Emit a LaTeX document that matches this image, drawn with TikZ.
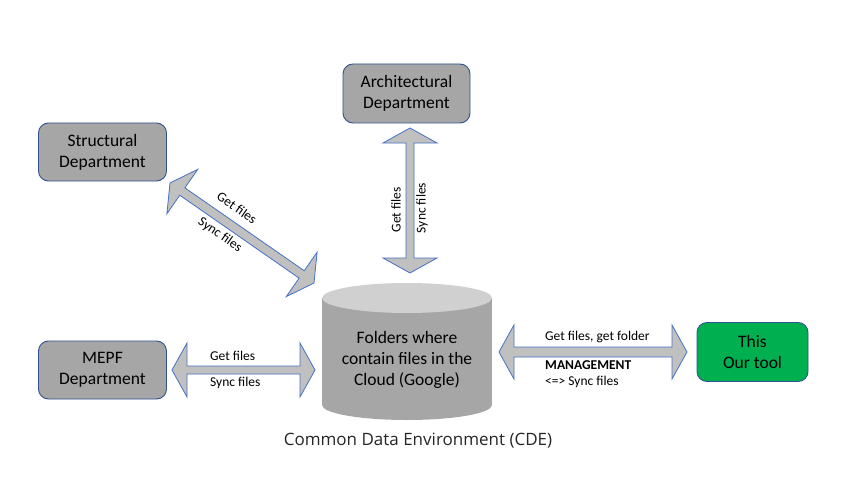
\documentclass[tikz,border=0pt]{standalone}
\usepackage{fontspec}
\setmainfont{Carlito}
\newfontfamily\capfont{Open Sans}
\usetikzlibrary{calc}
\definecolor{boxgray}{HTML}{A6A6A6}
\definecolor{boxline}{HTML}{2F528F}
\definecolor{arrfill}{HTML}{C0C0C0}
\definecolor{arrline}{HTML}{4472C4}
\definecolor{toolgreen}{HTML}{00B050}
\definecolor{cyltop}{HTML}{D0D0D0}
\definecolor{cylbody}{HTML}{A6A6A6}
\definecolor{captxt}{HTML}{262626}
\newcommand\dblarrow[3][5]{%
  \path let \p1=($(#3)-(#2)$) in \pgfextra{\pgfmathsetmacro\myang{atan2(\y1,\x1)}\pgfmathsetmacro\mylen{veclen(\x1,\y1)}\global\let\arrang\myang\global\let\arrlen\mylen};
  \draw[arr,shift={(#2)},rotate=\arrang] (0,0) -- (15,-27) -- (15,-#1) -- (\arrlen-15,-#1) -- (\arrlen-15,-27) -- (\arrlen,0) -- (\arrlen-15,27) -- (\arrlen-15,#1) -- (15,#1) -- (15,27) -- cycle;
}
\tikzset{
  dept/.style={draw=boxline, fill=boxgray, rounded corners=10pt, line width=0.9pt, align=center, inner sep=0pt, font=\fontsize{17.5}{21}\selectfont},
  arr/.style={draw=arrline, fill=arrfill, line width=0.8pt, line join=miter},
  lbl/.style={inner sep=0pt, font=\fontsize{13.5}{16}\selectfont},
}
\begin{document}
\begin{tikzpicture}[x=1pt,y=-1pt]
\useasboundingbox[fill=white] (0,0) rectangle (855,495);
% departments
\node[dept, minimum width=128pt, minimum height=58pt] (struct) at (102.5,152) {Structural\\Department};
\node[dept, minimum width=127pt, minimum height=59pt] (arch) at (406.5,93.5) {Architectural\\Department};
\node[dept, minimum width=128pt, minimum height=58pt] (mepf) at (102.5,370) {MEPF\\Department};
\node[dept, fill=toolgreen, minimum width=111pt, minimum height=59pt] (tool) at (752.5,352) {This\\Our tool};
% cylinder
\fill[cylbody] (322,298) rectangle (492,405);
\fill[cylbody] (407,405) ellipse [x radius=85, y radius=15];
\fill[cyltop] (407,298) ellipse [x radius=85, y radius=15];
\node[align=center, inner sep=0pt, font=\fontsize{17.5}{21}\selectfont] (cyl) at (407,360) {Folders where\\contain files in the\\Cloud (Google)};
\node[inner sep=0pt, text=captxt, font=\capfont\fontsize{17}{20}\selectfont] (cde) at (418,441) {Common Data Environment (CDE)};
% arrow ends
\coordinate (v1) at (410,128); \coordinate (v2) at (410,273);
\coordinate (d1) at (170,183); \coordinate (d2) at (314,283);
\coordinate (m1) at (172,370); \coordinate (m2) at (315,370);
\coordinate (r1) at (499,352); \coordinate (r2) at (687,352);
\dblarrow[4]{v1}{v2}
\dblarrow[4.5]{d1}{d2}
\dblarrow[4]{m1}{m2}
\dblarrow[5]{r1}{r2}
% labels
\node[lbl, rotate=90] (vg) at (396,210) {Get files};
\node[lbl, rotate=90] (vs) at (422,208) {Sync files};
\node[lbl, rotate=-35] (dg) at (237,208) {Get files};
\node[lbl, rotate=-35] (ds) at (220,235) {Sync files};
\node[lbl, anchor=west] (mg) at (210,356) {Get files};
\node[lbl, anchor=west] (ms) at (210,383) {Sync files};
\node[lbl, anchor=west] (rg) at (545,337) {Get files, get folder};
\node[lbl, anchor=west, font=\bfseries\fontsize{13.5}{16}\selectfont] (rm) at (545,365) {MANAGEMENT};
\node[lbl, anchor=west] (rs) at (545,382) {<=> Sync files};
\end{tikzpicture}
\end{document}
